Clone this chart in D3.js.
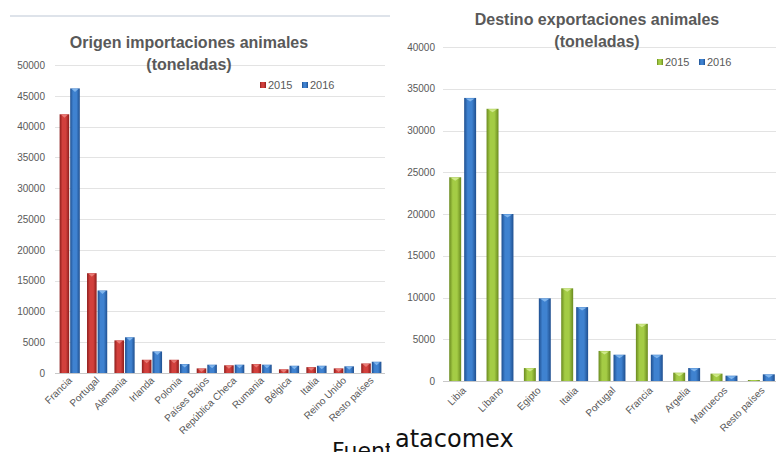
<!DOCTYPE html>
<html>
<head>
<meta charset="utf-8">
<title>Importaciones y exportaciones de animales</title>
<script src="https://cdnjs.cloudflare.com/ajax/libs/d3/7.8.5/d3.min.js"></script>
<style>
    body { margin:0; background:#fff; }
    svg text { font-family:"Liberation Sans", Arial, sans-serif; fill:#595959; }
    .title { font-weight:bold; font-size:16px; }
    .tick-y { font-size:10px; }
    .tick-x { font-size:10px; }
    .legend { font-size:11px; }
    .fuente { font-family:"DejaVu Sans", sans-serif; font-size:22px; fill:#111; }
</style>
</head>
<body>
<div id="chart"></div>
<script>
// --- datos: origen importaciones (toneladas)
var impCategories = ['Francia','Portugal','Alemania','Irlanda','Polonia','Países Bajos','República Checa','Rumania','Bélgica','Italia','Reino Unido','Resto países'];
var imp2015 = [42000,16200,5300,2150,2150,750,1250,1450,600,950,750,1550];
var imp2016 = [46200,13400,5800,3500,1450,1350,1350,1350,1180,1180,1080,1830];
var impTicks = [0,5000,10000,15000,20000,25000,30000,35000,40000,45000,50000];

// --- datos: destino exportaciones (toneladas)
var expCategories = ['Libia','Líbano','Egipto','Italia','Portugal','Francia','Argelia','Marruecos','Resto países'];
var exp2015 = [24400,32600,1550,11100,3600,6850,1000,880,120];
var exp2016 = [33900,20000,9900,8850,3150,3150,1550,640,800];
var expTicks = [0,5000,10000,15000,20000,25000,30000,35000,40000];

var seriesNames = ['2015','2016'];

var width = 776, height = 452;
var svg = d3.select('#chart').append('svg')
    .attr('width', width)
    .attr('height', height);

var defs = svg.append('defs');

// gradiente horizontal para dar el efecto 3D de las barras
function makeGradient(id, edge, mid) {
    var g = defs.append('linearGradient').attr('id', id)
        .attr('x1','0%').attr('x2','100%').attr('y1','0%').attr('y2','0%');
    g.append('stop').attr('offset','0%').attr('stop-color', edge);
    g.append('stop').attr('offset','30%').attr('stop-color', mid);
    g.append('stop').attr('offset','65%').attr('stop-color', mid);
    g.append('stop').attr('offset','100%').attr('stop-color', edge);
}
makeGradient('g-red', '#8c1d1b', '#d2403c');
makeGradient('g-blue', '#1f4f8f', '#3f82d0');
makeGradient('g-green', '#6a8a1f', '#a4cc45');

var capColors = { 'g-red':'#e87a74', 'g-blue':'#7fb4ec', 'g-green':'#cfe88a' };

function drawChart(opt) {
    var g = svg.append('g');

    // fondo blanco del panel
    g.append('rect')
        .attr('x', opt.panel[0]).attr('y', opt.panel[1])
        .attr('width', opt.panel[2]).attr('height', opt.panel[3])
        .attr('fill', '#fff');

    var y = d3.scaleLinear().domain([0, opt.max]).range([opt.y0, opt.y1]);
    var x = d3.scaleBand().domain(opt.categories).range([opt.x0, opt.x1]).padding(0);

    // lineas de la rejilla
    g.selectAll('.grid').data(opt.ticks).enter().append('line')
        .attr('x1', opt.x0 - 1).attr('x2', opt.gridEnd)
        .attr('y1', function(d) { return Math.round(y(d)) + 0.5; })
        .attr('y2', function(d) { return Math.round(y(d)) + 0.5; })
        .attr('stroke', function(d) { return d === 0 ? '#c8c8c8' : '#e3e3e3'; })
        .attr('stroke-width', 1.2);

    // eje y
    var yAxis = d3.axisLeft(y).tickValues(opt.ticks).tickSize(0).tickPadding(0)
        .tickFormat(d3.format('d'));
    var ay = g.append('g').attr('transform', 'translate(' + opt.labelRight + ',0)').call(yAxis);
    ay.select('.domain').remove();
    ay.selectAll('text').attr('class', 'tick-y').attr('font-size', opt.ySize)
        .attr('fill', '#595959').style('font-family', '"Liberation Sans", Arial, sans-serif');

    // barras
    var step = x.bandwidth();
    var bw = step * opt.barFrac;
    var series = [opt.s1, opt.s2];
    series.forEach(function(vals, si) {
        var grad = opt.grads[si];
        var bars = g.selectAll('.bar' + si).data(opt.categories).enter().append('g');
        bars.each(function(c, i) {
            var cx = x(c) + step / 2 + opt.shift;
            var bx = si === 0 ? cx - opt.gap / 2 - bw : cx + opt.gap / 2;
            var top = y(vals[i]);
            var h = opt.y0 - top;
            var b = d3.select(this);
            b.append('rect')
                .attr('x', bx).attr('y', top)
                .attr('width', bw).attr('height', h)
                .attr('fill', 'url(#' + grad + ')');
            if (h > 3) {
                b.append('path')
                    .attr('d', 'M' + (bx + 1.5) + ',' + (top + 0.5) + 'L' + (bx + bw - 1.5) + ',' + (top + 0.5) +
                        'L' + (bx + bw / 2) + ',' + (top + 3.5) + 'Z')
                    .attr('fill', capColors[grad]);
            }
        });
    });

    // etiquetas del eje x, giradas
    g.selectAll('.xl').data(opt.categories).enter().append('text')
        .attr('class', 'tick-x')
        .attr('font-size', opt.xSize)
        .attr('text-anchor', 'end')
        .attr('transform', function(c) {
            var cx = x(c) + step / 2 + opt.shift + opt.labelDx;
            return 'translate(' + cx + ',' + (opt.y0 + opt.labelDy) + ') rotate(-45)';
        })
        .text(function(c) { return c; });

    // titulo
    g.append('text').attr('class', 'title')
        .attr('x', opt.titleX).attr('y', opt.titleY).attr('text-anchor', 'middle')
        .text(opt.title1);
    g.append('text').attr('class', 'title')
        .attr('x', opt.titleX).attr('y', opt.titleY + 22).attr('text-anchor', 'middle')
        .text('(toneladas)');

    // leyenda
    var lg = g.append('g').attr('transform', 'translate(' + opt.legend[0] + ',' + opt.legend[1] + ')');
    seriesNames.forEach(function(s, i) {
        var ox = i * 42;
        lg.append('rect').attr('x', ox).attr('y', -7).attr('width', 6).attr('height', 6)
            .attr('fill', 'url(#' + opt.grads[i] + ')');
        lg.append('text').attr('class', 'legend').attr('x', ox + 8).attr('y', 0).text(s);
    });
}

// fuente (queda en parte tapada por el panel derecho)
var clip = defs.append('clipPath').attr('id', 'clip-left');
clip.append('rect').attr('x', 0).attr('y', 0).attr('width', 390).attr('height', height);

drawChart({
    categories: impCategories, s1: imp2015, s2: imp2016, ticks: impTicks, max: 50000,
    panel: [0, 0, 390, 452],
    y0: 373, y1: 65, x0: 56, x1: 385, gridEnd: 385, labelRight: 45,
    barFrac: 0.35, gap: 1, shift: 0, labelDx: 3, labelDy: 8, ySize: 10, xSize: 10,
    grads: ['g-red', 'g-blue'],
    title1: 'Origen importaciones animales', titleX: 189, titleY: 48,
    legend: [260, 89]
});

svg.append('line').attr('x1', 10).attr('x2', 395).attr('y1', 16).attr('y2', 16)
    .attr('stroke', '#d3dae3').attr('stroke-width', 1.5);

svg.append('text').attr('class', 'fuente').attr('x', 332).attr('y', 458)
    .attr('clip-path', 'url(#clip-left)').text('Fuente');

drawChart({
    categories: expCategories, s1: exp2015, s2: exp2016, ticks: expTicks, max: 40000,
    panel: [390, 0, 386, 426],
    y0: 381, y1: 47, x0: 444, x1: 780, gridEnd: 776, labelRight: 435,
    barFrac: 0.32, gap: 3, shift: 0, labelDx: 4, labelDy: 10, ySize: 10.5, xSize: 10.5,
    grads: ['g-green', 'g-blue'],
    title1: 'Destino exportaciones animales', titleX: 597, titleY: 25,
    legend: [657, 66]
});

svg.append('text').attr('class', 'fuente').attr('x', 395).attr('y', 447)
    .style('font-size', '24px').text('atacomex');
</script>
</body>
</html>
